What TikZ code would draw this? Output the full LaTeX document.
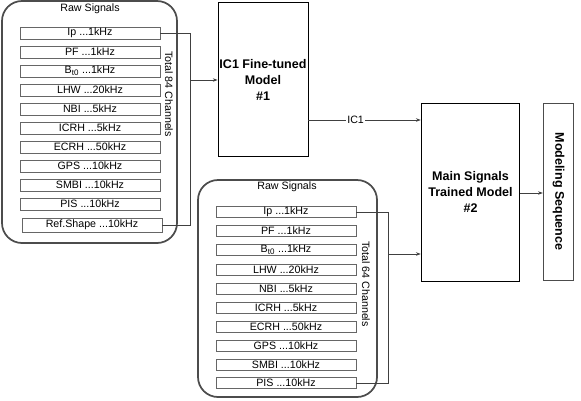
\documentclass[tikz,border=0pt]{standalone}
\usepackage{fontspec}
\setmainfont{Liberation Sans}
\usetikzlibrary{arrows.meta}
\begin{document}
\begin{tikzpicture}[x=0.75pt,y=-0.75pt,
  group/.style={draw=black!70, line width=1.3pt, rounded corners=15pt},
  sig/.style={draw=black!60, line width=0.5pt, minimum width=105pt, minimum height=9pt, inner sep=0pt, font=\fontsize{8}{9.5}\selectfont},
  model/.style={draw=black, line width=0.7pt, inner sep=0pt, align=center, font=\fontsize{9.4}{12}\selectfont\bfseries},
  lbl/.style={font=\fontsize{8}{9.5}\selectfont},
  conn/.style={draw=black!75, line width=0.5pt},
  arr/.style={conn, -{Stealth[length=3.5pt,width=2.6pt]}}]
\useasboundingbox (0,0) rectangle (581,400);
% top group
\draw[group] (2,1) rectangle (177,243);
\node[lbl] (rs1) at (90,9) {Raw Signals};
\node[sig] (t1) at (90,33) {Ip ...1kHz};
\node[sig] (t2) at (90,52) {PF ...1kHz};
\node[sig] (t3) at (90,71) {B\textsubscript{t0} ...1kHz};
\node[sig] (t4) at (90,90) {LHW ...20kHz};
\node[sig] (t5) at (90,109) {NBI ...5kHz};
\node[sig] (t6) at (90,128) {ICRH ...5kHz};
\node[sig] (t7) at (90,147) {ECRH ...50kHz};
\node[sig] (t8) at (90,166) {GPS ...10kHz};
\node[sig] (t9) at (90,185) {SMBI ...10kHz};
\node[sig] (t10) at (90,204) {PIS ...10kHz};
\node[sig, minimum height=10.5pt] (t11) at (92,225) {Ref.Shape ...10kHz};
\node[lbl, rotate=-90] (tc1) at (169,94) {Total 84 Channels};
% bottom group
\draw[group] (198,180) rectangle (377,397);
\node[lbl] (rs2) at (287,187) {Raw Signals};
\node[sig, minimum height=8.5pt] (u1) at (286,212) {Ip ...1kHz};
\node[sig, minimum height=8.5pt] (u2) at (286,231) {PF ...1kHz};
\node[sig, minimum height=8.5pt] (u3) at (286,250) {B\textsubscript{t0} ...1kHz};
\node[sig, minimum height=8.5pt] (u4) at (286,270) {LHW ...20kHz};
\node[sig, minimum height=8.5pt] (u5) at (286,289) {NBI ...5kHz};
\node[sig, minimum height=8.5pt] (u6) at (286,308) {ICRH ...5kHz};
\node[sig, minimum height=8.5pt] (u7) at (286,327) {ECRH ...50kHz};
\node[sig, minimum height=8.5pt] (u8) at (286,346) {GPS ...10kHz};
\node[sig, minimum height=8.5pt] (u9) at (286,365) {SMBI ...10kHz};
\node[sig, minimum height=8.5pt] (u10) at (286,383) {PIS ...10kHz};
\node[lbl, rotate=-90] (tc2) at (366,284) {Total 64 Channels};
% models
\node[model, minimum width=67.5pt, minimum height=116pt] (m1) at (263,79.5) {IC1 Fine-tuned\\Model\\\#1};
\node[model, minimum width=74pt, minimum height=133.5pt] (m2) at (470.5,192) {Main Signals\\Trained Model\\\#2};
\node[model, rotate=-90, minimum width=132.75pt, minimum height=23pt, line width=0.6pt, draw=black!70] (ms) at (558.5,191.5) {Modeling Sequence};
% connectors
\coordinate (b1) at (190,80);
\coordinate (b2) at (388,254);
\coordinate (c1) at (0,120);
\coordinate (c3) at (0,193);
\draw[conn] (t1.east) -- (t1.east -| b1) -- (t11.east -| b1) -- (t11.east);
\draw[arr] (b1) -- (b1 -| m1.west);
\draw[conn] (u1.east) -- (u1.east -| b2) -- (u10.east -| b2) -- (u10.east);
\draw[arr] (b2) -- (b2 -| m2.west);
\draw[arr] (m1.east |- c1) -- node[pos=0.42, fill=white, inner sep=1pt, lbl] {IC1} (m2.west |- c1);
\draw[arr] (m2.east |- c3) -- (ms.south |- c3);
\end{tikzpicture}
\end{document}
